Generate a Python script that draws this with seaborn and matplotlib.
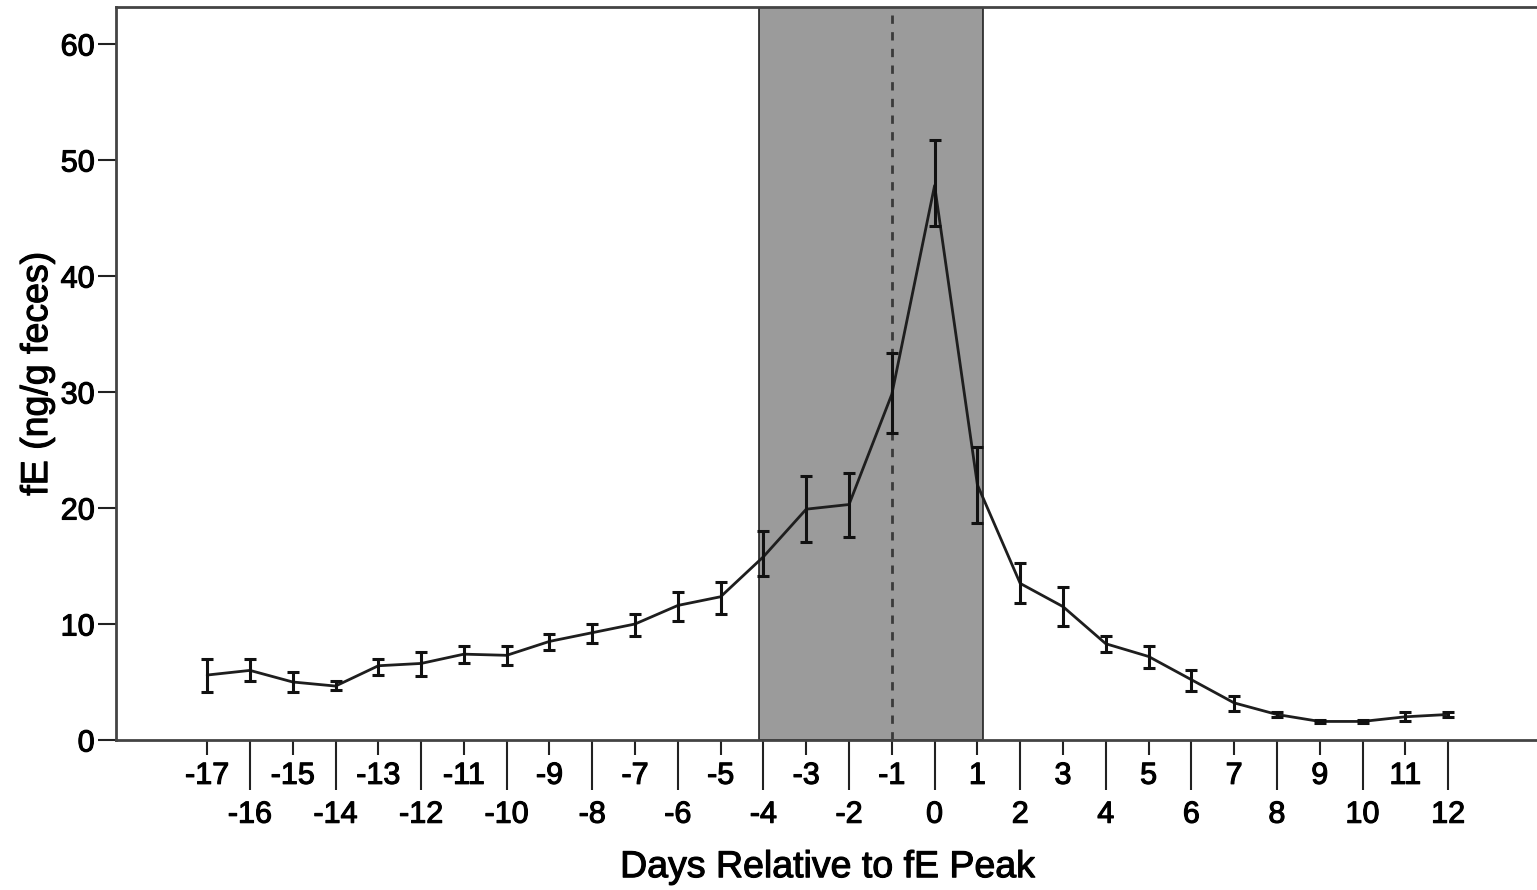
import matplotlib
matplotlib.use("Agg")
import matplotlib.pyplot as plt
import matplotlib.patheffects as pe
import numpy as np
import pandas as pd
import seaborn as sns

# Mean faecal estrogen per day relative to the peak, with SEM bounds
days = list(range(-17, 13))
mean_fe = [5.6, 6.0, 5.0, 4.65, 6.4, 6.6, 7.4, 7.3, 8.5, 9.25,
           10.0, 11.6, 12.35, 15.8, 19.9, 20.3, 29.8, 47.8, 22.0, 13.5,
           11.5, 8.3, 7.2, 5.2, 3.2, 2.2, 1.6, 1.6, 2.0, 2.2]
upper_fe = [7.0, 7.0, 5.9, 5.1, 7.0, 7.6, 8.1, 8.1, 9.1, 10.0,
            10.9, 12.8, 13.6, 18.0, 22.8, 23.0, 33.4, 51.7, 25.3, 15.3,
            13.2, 9.0, 8.1, 6.0, 3.8, 2.4, 1.75, 1.75, 2.45, 2.4]
lower_fe = [4.1, 5.1, 4.1, 4.3, 5.6, 5.5, 6.6, 6.5, 7.8, 8.4,
            9.0, 10.3, 10.9, 14.1, 17.1, 17.5, 26.5, 44.3, 18.7, 11.8,
            9.8, 7.6, 6.2, 4.2, 2.5, 2.0, 1.5, 1.5, 1.6, 2.0]

# Peri-ovulatory window and the estimated LH day
window = (-4.1, 1.12)
lh_day = -1

df = pd.DataFrame({"day": days, "fe": mean_fe})

sns.set_style("white")
plt.rcParams["font.family"] = ["Liberation Sans", "DejaVu Sans"]
plt.rcParams["text.color"] = "black"
plt.rcParams["axes.labelcolor"] = "black"
plt.rcParams["xtick.color"] = "black"
plt.rcParams["ytick.color"] = "black"

fig = plt.figure(figsize=(15.37, 8.9), dpi=100)
W, H = 1537, 890
x_lo, x_hi = -19.14, 14.14
px_per_day = 42.79
ax_left, ax_bottom, ax_top = 115.6, 740, 7
ax_width = (x_hi - x_lo) * px_per_day
ax = fig.add_axes([ax_left / W, (H - ax_bottom) / H, ax_width / W, (ax_bottom - ax_top) / H])

ax.axvspan(window[0], window[1], facecolor="#9b9b9b", edgecolor="#222222", linewidth=1.2, zorder=0)
ax.axvline(lh_day, color="#3a3a3a", linestyle=(0, (3, 3)), linewidth=2, zorder=1)

sns.lineplot(data=df, x="day", y="fe", color="#1e1e1e", linewidth=2, ax=ax, zorder=3)
yerr = np.array([np.array(mean_fe) - np.array(lower_fe), np.array(upper_fe) - np.array(mean_fe)])
ax.errorbar(days, mean_fe, yerr=yerr, fmt="none", ecolor="#111111",
            elinewidth=2.2, capsize=4.5, capthick=2.2, zorder=4)

ax.set_xlim(x_lo, x_hi)
ax.set_ylim(0, 63.19)

even_days = [d for d in days if d % 2 == 0]
odd_days = [d for d in days if d % 2 != 0]
ax.set_xticks(even_days)
ax.set_xticklabels([str(d) for d in even_days])
ax.set_xticks(odd_days, minor=True)
ax.set_xticklabels([str(d) for d in odd_days], minor=True)
ax.set_yticks([0, 10, 20, 30, 40, 50, 60])

ax.tick_params(axis="x", which="major", direction="out", length=36, width=1.5,
               color="#222222", labelcolor="black", labelsize=22, pad=7, bottom=True)
ax.tick_params(axis="x", which="minor", direction="out", length=11, width=1.5,
               color="#222222", labelcolor="black", labelsize=22, pad=4, bottom=True)
ax.tick_params(axis="y", which="major", direction="out", length=13, width=1.5,
               color="#222222", labelcolor="black", labelsize=22, pad=2, left=True)

for spine in ["left", "bottom", "top"]:
    ax.spines[spine].set_visible(True)
    ax.spines[spine].set_color("#444444")
    ax.spines[spine].set_linewidth(2)
ax.spines["right"].set_visible(False)

ax.set_xlabel("Days Relative to fE Peak", fontsize=27, labelpad=14, color="black")
ax.set_ylabel("fE (ng/g feces)", fontsize=27, labelpad=4, color="black")

# Slightly heavier glyph strokes for all axis text
heavy = [pe.withStroke(linewidth=0.8, foreground="black")]
texts = (ax.get_xticklabels() + ax.get_xticklabels(minor=True) + ax.get_yticklabels()
         + [ax.xaxis.label, ax.yaxis.label])
for t in texts:
    t.set_path_effects(heavy)

fig.savefig("out.png", dpi=100)
